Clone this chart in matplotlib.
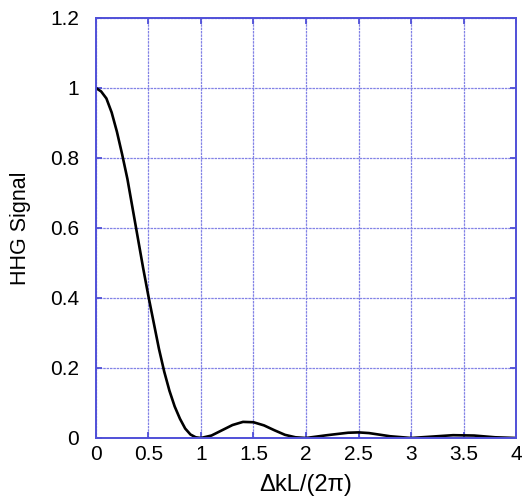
import matplotlib
matplotlib.use("Agg")
import matplotlib.pyplot as plt

plt.rcParams['font.family'] = ['Liberation Sans', 'DejaVu Sans']

# Phase-matching signal versus normalized phase mismatch
dkl = [0.0, 0.05, 0.1, 0.15, 0.2, 0.25, 0.3, 0.35, 0.4, 0.45, 0.5, 0.55, 0.6,
       0.65, 0.7, 0.75, 0.8, 0.85, 0.9, 0.95, 1.0, 1.1, 1.2, 1.3, 1.4, 1.5,
       1.6, 1.7, 1.8, 1.9, 2.0, 2.2, 2.4, 2.5, 2.6, 2.8, 3.0, 3.2, 3.4, 3.6,
       3.8, 4.0]
signal = [1.0, 0.99, 0.97, 0.93, 0.875, 0.81, 0.74, 0.655, 0.57, 0.485, 0.405,
          0.33, 0.255, 0.19, 0.135, 0.09, 0.055, 0.027, 0.01, 0.002, 0.0,
          0.007, 0.022, 0.037, 0.046, 0.045, 0.036, 0.022, 0.009, 0.002, 0.0,
          0.008, 0.015, 0.016, 0.014, 0.005, 0.0, 0.004, 0.008, 0.007, 0.002, 0.0]

x_ticks = [0, 0.5, 1, 1.5, 2, 2.5, 3, 3.5, 4]
x_labels = ['0', '0.5', '1', '1.5', '2', '2.5', '3', '3.5', '4']
y_ticks = [0, 0.2, 0.4, 0.6, 0.8, 1.0, 1.2]
y_labels = ['0', '0.2', '0.4', '0.6', '0.8', '1', '1.2']

frame_blue = '#5050d8'
grid_blue = '#8282e6'

fig = plt.figure(figsize=(5.24, 4.98), dpi=100)
ax = fig.add_axes([0.183, 0.1205, 0.802, 0.8435])

ax.plot(dkl, signal, color='black', lw=1.9, solid_capstyle='round')

ax.set_xlim(0, 4)
ax.set_ylim(0, 1.2)
ax.set_xticks(x_ticks)
ax.set_xticklabels(x_labels)
ax.set_yticks(y_ticks)
ax.set_yticklabels(y_labels)

ax.grid(True, color=grid_blue, lw=0.9, ls=(0, (2, 0.7)))
ax.set_axisbelow(True)
for s in ax.spines.values():
    s.set_color(frame_blue)
    s.set_linewidth(1.4)

ax.tick_params(direction='in', length=4, width=1.3, color=frame_blue,
               top=True, right=True, labelsize=15)
ax.tick_params(axis='x', pad=5)
ax.tick_params(axis='y', pad=12)

ax.set_xlabel('ΔkL/(2π)', fontsize=17)
ax.xaxis.set_label_coords(0.5, -0.085)
ax.set_ylabel('HHG Signal', fontsize=15.5)
ax.yaxis.set_label_coords(-0.155, 0.5)

fig.savefig('out.png', dpi=100)
